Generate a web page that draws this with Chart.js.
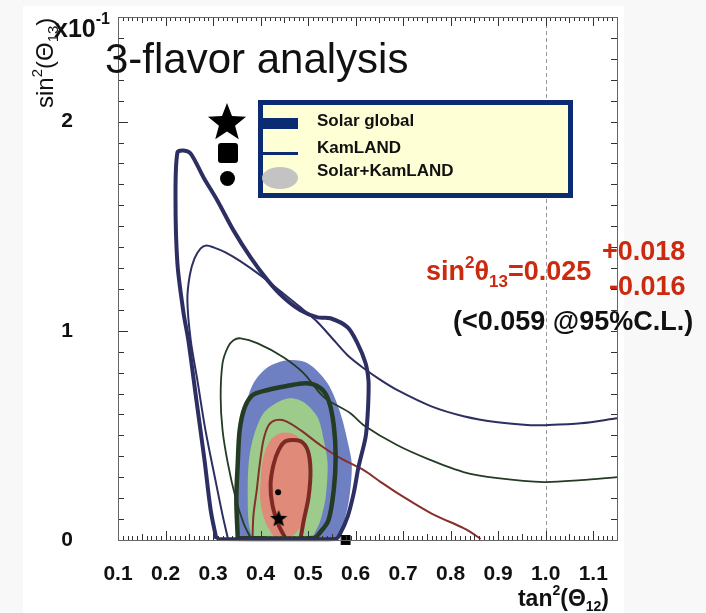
<!DOCTYPE html>
<html><head><meta charset="utf-8">
<script src="https://cdn.jsdelivr.net/npm/chart.js@4/dist/chart.umd.min.js"></script>
<style>html,body{margin:0;padding:0;background:#f8f8f8;}canvas{display:block;}</style>
</head><body>
<canvas id="c" width="706" height="613"></canvas>
<script>
// ---------- axis ticks ----------
const xTickValues = [0.1,0.2,0.3,0.4,0.5,0.6,0.7,0.8,0.9,1.0,1.1];
const xTickLabels = ['0.1','0.2','0.3','0.4','0.5','0.6','0.7','0.8','0.9','1.0','1.1'];
const yTickValues = [0,1,2];
const yTickLabels = ['0','1','2'];
const xRange = [0.1, 1.15];
const yRange = [0, 2.5];       // in units of 10^-1
const refLineX = 1.0;

// ---------- Solar+KamLAND filled regions [tan2(theta12), sin2(theta13) x10] ----------
const combinedOuter = [[0.362,0],[0.349,0.057],[0.347,0.143],[0.347,0.286],[0.354,0.444],[0.364,0.606],[0.385,0.749],[0.415,0.826],[0.457,0.859],[0.499,0.845],[0.541,0.749],[0.568,0.606],[0.585,0.453],[0.592,0.358],[0.587,0.205],[0.575,0.081],[0.562,0.019],[0.552,0]];
const combinedMid = [[0.383,0],[0.375,0.081],[0.373,0.205],[0.375,0.368],[0.385,0.492],[0.406,0.606],[0.436,0.659],[0.463,0.678],[0.491,0.659],[0.520,0.587],[0.533,0.477],[0.541,0.368],[0.537,0.205],[0.526,0.095],[0.512,0.024],[0.505,0]];
const combinedInner = [[0.432,0],[0.411,0.081],[0.400,0.177],[0.400,0.286],[0.406,0.396],[0.421,0.477],[0.442,0.511],[0.463,0.511],[0.478,0.492],[0.499,0.396],[0.501,0.286],[0.499,0.158],[0.484,0.062],[0.463,0.010],[0.453,0]];

// ---------- Solar global contours (thick) ----------
const solarOuter = [[0.307,0.005],[0.295,0.143],[0.282,0.382],[0.265,0.668],[0.248,0.955],[0.238,1.084],[0.225,1.322],[0.221,1.637],[0.225,1.852],[0.238,1.862],[0.253,1.847],[0.280,1.733],[0.309,1.623],[0.343,1.480],[0.379,1.351],[0.415,1.241],[0.448,1.160],[0.484,1.098],[0.520,1.064],[0.547,1.060],[0.583,1.017],[0.604,0.940],[0.621,0.845],[0.627,0.764],[0.627,0.683],[0.625,0.587],[0.621,0.492],[0.606,0.348],[0.596,0.224],[0.583,0.110],[0.568,0.033],[0.558,0.005],[0.307,0.005]];
const solarMid = [[0.352,0.010],[0.349,0.191],[0.352,0.368],[0.356,0.525],[0.366,0.630],[0.383,0.692],[0.413,0.716],[0.453,0.735],[0.497,0.749],[0.526,0.726],[0.543,0.668],[0.554,0.549],[0.558,0.396],[0.554,0.239],[0.543,0.095],[0.526,0.038],[0.512,0.010],[0.352,0.010]];
const solarInner = [[0.453,0.005],[0.438,0.072],[0.425,0.167],[0.421,0.263],[0.427,0.358],[0.438,0.430],[0.453,0.473],[0.484,0.473],[0.499,0.430],[0.505,0.334],[0.501,0.205],[0.491,0.095],[0.484,0.005]];

// ---------- KamLAND contours (thin) ----------
const kamOuter = [[0.331,0.010],[0.320,0.119],[0.305,0.286],[0.284,0.525],[0.267,0.764],[0.253,0.955],[0.246,1.146],[0.251,1.265],[0.261,1.346],[0.274,1.394],[0.286,1.408],[0.301,1.399],[0.326,1.375],[0.358,1.332],[0.400,1.265],[0.442,1.189],[0.484,1.112],[0.516,1.050],[0.547,0.974],[0.583,0.883],[0.617,0.821],[0.653,0.764],[0.688,0.716],[0.758,0.640],[0.827,0.592],[0.899,0.563],[0.968,0.549],[1.000,0.549],[1.074,0.558],[1.150,0.582]];
const kamMid = [[0.379,0.010],[0.364,0.081],[0.347,0.205],[0.331,0.368],[0.320,0.525],[0.316,0.683],[0.320,0.845],[0.331,0.921],[0.343,0.955],[0.358,0.964],[0.394,0.940],[0.448,0.874],[0.491,0.797],[0.533,0.683],[0.589,0.606],[0.617,0.549],[0.688,0.453],[0.758,0.382],[0.827,0.325],[0.899,0.296],[0.996,0.277],[1.074,0.286],[1.150,0.301]];
const kamInner = [[0.383,0.010],[0.385,0.119],[0.392,0.239],[0.398,0.358],[0.406,0.477],[0.417,0.549],[0.432,0.573],[0.453,0.568],[0.484,0.525],[0.526,0.453],[0.568,0.391],[0.617,0.334],[0.653,0.277],[0.688,0.224],[0.758,0.129],[0.827,0.057],[0.842,0.038],[0.863,0.005]];

// ---------- best-fit points ----------
const bestSolar = [[0.438,0.105]];
const bestCombined = [[0.437,0.228]];
const bestKamLAND = [[0.579,0]];

const toXY = a => a.map(([x,y]) => ({x, y}));

function starPath(g, cx, cy, R, r){
  g.beginPath();
  for (let i = 0; i < 10; i++){
    const ang = -Math.PI/2 + i*Math.PI/5;
    const rad = i % 2 ? r : R;
    g.lineTo(cx + rad*Math.cos(ang), cy + rad*Math.sin(ang));
  }
  g.closePath();
}
function makeStar(size){
  const c = document.createElement('canvas'); c.width = size; c.height = size;
  const g = c.getContext('2d');
  starPath(g, size/2, size/2 + size*0.05, size/2, size*0.21);
  g.fillStyle = '#000'; g.fill();
  return c;
}
const smallStar = makeStar(18);

const NAVY = '#2d2e62', DGREEN = '#243b24', BROWN = '#7d2a25';
const RED = '#cc2a0e';
const FONT = "'Liberation Sans', Arial, sans-serif";

function fillDs(arr, color, order){
  return {data: toXY(arr), showLine: true, fill: 'shape', backgroundColor: color, borderColor: 'rgba(0,0,0,0)', borderWidth: 0, pointRadius: 0, tension: 0.3, order};
}
function lineDs(arr, color, width, order){
  return {data: toXY(arr), showLine: true, fill: false, borderColor: color, borderWidth: width, pointRadius: 0, tension: 0.3, order, clip: false};
}

function drawRich(ctx, parts, x, y){
  let cx = x;
  for (const p of parts){
    ctx.font = p.font;
    ctx.fillText(p.t, cx, y + (p.dy || 0));
    cx += ctx.measureText(p.t).width + (p.gap || 0);
  }
  return cx - x;
}
function richWidth(ctx, parts){
  let w = 0;
  for (const p of parts){ ctx.font = p.font; w += ctx.measureText(p.t).width + (p.gap || 0); }
  return w;
}

const deco = {
  id: 'deco',
  beforeDraw(chart){
    const ctx = chart.ctx;
    ctx.save();
    ctx.fillStyle = '#f8f8f8'; ctx.fillRect(0, 0, 706, 613);
    ctx.fillStyle = '#ffffff'; ctx.fillRect(23, 6, 601, 607);
    ctx.restore();
  },
  beforeDatasetsDraw(chart){
    const {ctx, chartArea: a, scales: {x}} = chart;
    const px = Math.round(x.getPixelForValue(refLineX)) + 0.5;
    ctx.save();
    ctx.strokeStyle = '#999'; ctx.lineWidth = 1; ctx.setLineDash([4, 3]);
    ctx.beginPath(); ctx.moveTo(px, a.top); ctx.lineTo(px, a.bottom); ctx.stroke();
    ctx.restore();
  },
  afterDatasetsDraw(chart){
    const {ctx, chartArea: a, scales: {x, y}} = chart;
    ctx.save();
    ctx.strokeStyle = '#333'; ctx.lineWidth = 1;
    ctx.beginPath();
    for (let i = Math.round(xRange[0]*100); i <= Math.round(xRange[1]*100); i++){
      const v = i/100;
      const px = Math.round(x.getPixelForValue(v)) + 0.5;
      const len = i % 10 === 0 ? 9 : (i % 5 === 0 ? 6 : 4);
      ctx.moveTo(px, a.bottom); ctx.lineTo(px, a.bottom - len);
      ctx.moveTo(px, a.top); ctx.lineTo(px, a.top + len);
    }
    for (let i = 0; i <= Math.round(yRange[1]*10); i++){
      const v = i/10;
      const py = Math.round(y.getPixelForValue(v)) + 0.5;
      const len = i % 10 === 0 ? 10 : 6;
      ctx.moveTo(a.left, py); ctx.lineTo(a.left + len, py);
      ctx.moveTo(a.right, py); ctx.lineTo(a.right - 6, py);
    }
    ctx.stroke();
    ctx.strokeStyle = '#666';
    ctx.strokeRect(Math.round(a.left) + 0.5, Math.round(a.top) + 0.5, Math.round(a.right - a.left), Math.round(a.bottom - a.top));
    ctx.restore();
  },
  afterDraw(chart){
    const {ctx} = chart;
    ctx.save();
    ctx.textBaseline = 'alphabetic';
    ctx.fillStyle = '#111';
    // title
    ctx.font = `42px ${FONT}`;
    ctx.fillText('3-flavor analysis', 105, 73);

    // y-axis title (rotated)
    ctx.save();
    ctx.translate(53, 108); ctx.rotate(-Math.PI/2);
    drawRich(ctx, [
      {t: 'sin', font: `24px ${FONT}`},
      {t: '2', font: `15px ${FONT}`, dy: -11},
      {t: '(Θ', font: `24px ${FONT}`},
      {t: '13', font: `15px ${FONT}`, dy: 5},
      {t: ')', font: `24px ${FONT}`}
    ], 0, 0);
    ctx.restore();
    drawRich(ctx, [
      {t: 'x10', font: `bold 25px ${FONT}`},
      {t: '-1', font: `bold 16px ${FONT}`, dy: -13}
    ], 54, 37);

    // x-axis title
    const xt = [
      {t: 'tan', font: `bold 23px ${FONT}`},
      {t: '2', font: `bold 14px ${FONT}`, dy: -11},
      {t: '(Θ', font: `bold 23px ${FONT}`},
      {t: '12', font: `bold 14px ${FONT}`, dy: 5},
      {t: ')', font: `bold 23px ${FONT}`}
    ];
    drawRich(ctx, xt, 609 - richWidth(ctx, xt), 606);

    // legend box
    ctx.fillStyle = '#ffffd6';
    ctx.fillRect(260, 102, 311, 94);
    ctx.strokeStyle = '#0b2c72'; ctx.lineWidth = 5;
    ctx.strokeRect(260.5, 102.5, 310, 93);
    ctx.fillStyle = '#0b2c72';
    ctx.fillRect(262, 118, 36, 11);
    ctx.fillRect(262, 152, 36, 3);
    ctx.fillStyle = '#c3c3c3';
    ctx.beginPath(); ctx.ellipse(280, 178, 18, 11, 0, 0, Math.PI*2); ctx.fill();
    ctx.fillStyle = '#111';
    ctx.font = `bold 17px ${FONT}`;
    ctx.fillText('Solar global', 317, 126);
    ctx.fillText('KamLAND', 317, 153);
    ctx.fillText('Solar+KamLAND', 317, 176);
    // legend symbols
    ctx.fillStyle = '#000';
    starPath(ctx, 227, 123, 20, 8.5); ctx.fill();
    ctx.beginPath();
    if (ctx.roundRect) ctx.roundRect(218, 143, 20, 20, 3); else ctx.rect(218, 143, 20, 20);
    ctx.fill();
    ctx.beginPath(); ctx.arc(227.5, 178.5, 7.5, 0, Math.PI*2); ctx.fill();

    // annotations
    ctx.fillStyle = RED;
    drawRich(ctx, [
      {t: 'sin', font: `bold 27px ${FONT}`},
      {t: '2', font: `bold 17px ${FONT}`, dy: -12},
      {t: 'θ', font: `bold 27px ${FONT}`},
      {t: '13', font: `bold 17px ${FONT}`, dy: 7},
      {t: '=0.025', font: `bold 27px ${FONT}`}
    ], 426, 280);
    ctx.font = `bold 27px ${FONT}`;
    ctx.fillText('+0.018', 602, 260);
    ctx.fillText('-0.016', 609, 295);
    ctx.fillStyle = '#111';
    ctx.fillText('(<0.059 @95%C.L.)', 453, 330);
    ctx.restore();
  }
};

new Chart(document.getElementById('c'), {
  type: 'scatter',
  data: {
    datasets: [
      {data: toXY(bestSolar), pointStyle: smallStar, pointRadius: 9, order: 0, clip: false},
      {data: toXY(bestCombined), pointStyle: 'circle', pointRadius: 3, backgroundColor: '#000', borderColor: '#000', borderWidth: 0, order: 0, clip: false},
      {data: toXY(bestKamLAND), pointStyle: 'rect', pointRadius: 7, backgroundColor: '#000', borderColor: '#000', borderWidth: 0, order: 0, clip: false},
      lineDs(solarOuter, NAVY, 4, 5),
      lineDs(solarMid, DGREEN, 4.5, 5),
      lineDs(solarInner, BROWN, 4, 5),
      lineDs(kamOuter, NAVY, 2, 6),
      lineDs(kamMid, DGREEN, 1.8, 6),
      lineDs(kamInner, '#86302a', 2, 6),
      fillDs(combinedInner, '#e08a7a', 20),
      fillDs(combinedMid, '#9ccb8c', 21),
      fillDs(combinedOuter, '#6f80c2', 22)
    ]
  },
  options: {
    responsive: false,
    animation: false,
    events: [],
    layout: {autoPadding: false, padding: {left: 0, right: 89, top: 17, bottom: 0}},
    plugins: {legend: {display: false}, tooltip: {enabled: false}},
    scales: {
      x: {
        type: 'linear', min: xRange[0], max: xRange[1],
        grid: {display: false, drawTicks: false},
        border: {display: false},
        afterFit(s){ s.height = 73; s.paddingLeft = 0; s.paddingRight = 0; },
        afterBuildTicks(s){ s.ticks = xTickValues.map(v => ({value: v})); },
        ticks: {
          padding: 22, color: '#111', maxRotation: 0, autoSkip: false,
          font: {family: FONT, size: 21, weight: 'bold'},
          callback: (v, i) => xTickLabels[i]
        }
      },
      y: {
        type: 'linear', min: yRange[0], max: yRange[1],
        grid: {display: false, drawTicks: false},
        border: {display: false},
        afterFit(s){ s.width = 118; s.paddingTop = 0; s.paddingBottom = 0; },
        afterBuildTicks(s){ s.ticks = yTickValues.map(v => ({value: v})); },
        ticks: {
          padding: 45, color: '#111', autoSkip: false,
          font: {family: FONT, size: 21, weight: 'bold'},
          callback: (v, i) => yTickLabels[i]
        }
      }
    }
  },
  plugins: [deco]
});
</script>
</body></html>
